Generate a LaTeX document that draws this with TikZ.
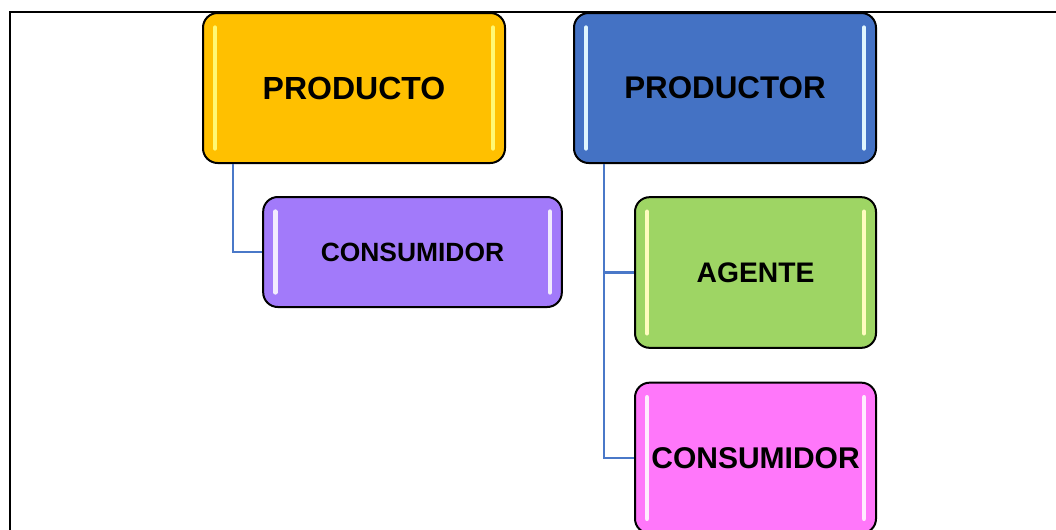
\documentclass[tikz,border=0pt]{standalone}
\usepackage{fontspec}
\setmainfont{Liberation Sans}
\definecolor{cProducto}{HTML}{FFC000}
\definecolor{cProductor}{HTML}{4472C4}
\definecolor{cLila}{HTML}{A27AFA}
\definecolor{cVerde}{HTML}{9ED564}
\definecolor{cRosa}{HTML}{FF77FA}
\definecolor{cLink}{HTML}{4A78C8}
\tikzset{
  box/.style 2 args={
    draw=black, line width=1.5pt, rounded corners=11pt, fill=#1,
    font=\bfseries, align=center, inner sep=0pt,
    path picture={
      \draw[#2, line width=3.5pt, line cap=round]
        ([xshift=9pt,yshift=-11pt]path picture bounding box.north west)
        -- ([xshift=9pt,yshift=11pt]path picture bounding box.south west);
      \draw[#2, line width=3.5pt, line cap=round]
        ([xshift=-9pt,yshift=-11pt]path picture bounding box.north east)
        -- ([xshift=-9pt,yshift=11pt]path picture bounding box.south east);
    }
  },
  link/.style={draw=cLink, line width=1.8pt}
}

\begin{document}
\begin{tikzpicture}[x=0.75pt, y=-0.75pt]
  \clip (0,0) rectangle (1056,529);
  \useasboundingbox (0,0) rectangle (1056,529);
  \draw[line width=1.6pt] (10,540) -- (10,12) -- (1070,12);

  \node [box={cProducto}{yellow!55!white}, minimum width=226.5pt, minimum height=112.5pt,
    font=\bfseries\fontsize{24}{28}\selectfont] (producto) at (354,88) {PRODUCTO};
  \node [box={cProductor}{cyan!12!white}, minimum width=226.5pt, minimum height=112.5pt,
    font=\bfseries\fontsize{23.5}{28}\selectfont] (productor) at (725,88) {PRODUCTOR};

  \node [box={cLila}{white!85!cLila}, minimum width=224pt, minimum height=82.5pt,
    font=\bfseries\fontsize{19.8}{24}\selectfont] (consumidor1) at (412.5,252) {CONSUMIDOR};
  \node [box={cVerde}{yellow!25!white}, minimum width=180.75pt, minimum height=113pt,
    font=\bfseries\fontsize{21.2}{24}\selectfont] (agente) at (755.5,272.5) {AGENTE};
  \node [box={cRosa}{white!85!cRosa}, minimum width=180.75pt, minimum height=113pt,
    font=\bfseries\fontsize{22.5}{24}\selectfont] (consumidor2) at (755.5,458) {CONSUMIDOR};

  % ramas
  \draw[link] ([xshift=23.25pt]producto.south west) |- (consumidor1.west);
  \draw[link] ([xshift=23.25pt]productor.south west) |- (agente.west);
  \draw[link] ([xshift=23.25pt]productor.south west) |- (consumidor2.west);
\end{tikzpicture}
\end{document}
